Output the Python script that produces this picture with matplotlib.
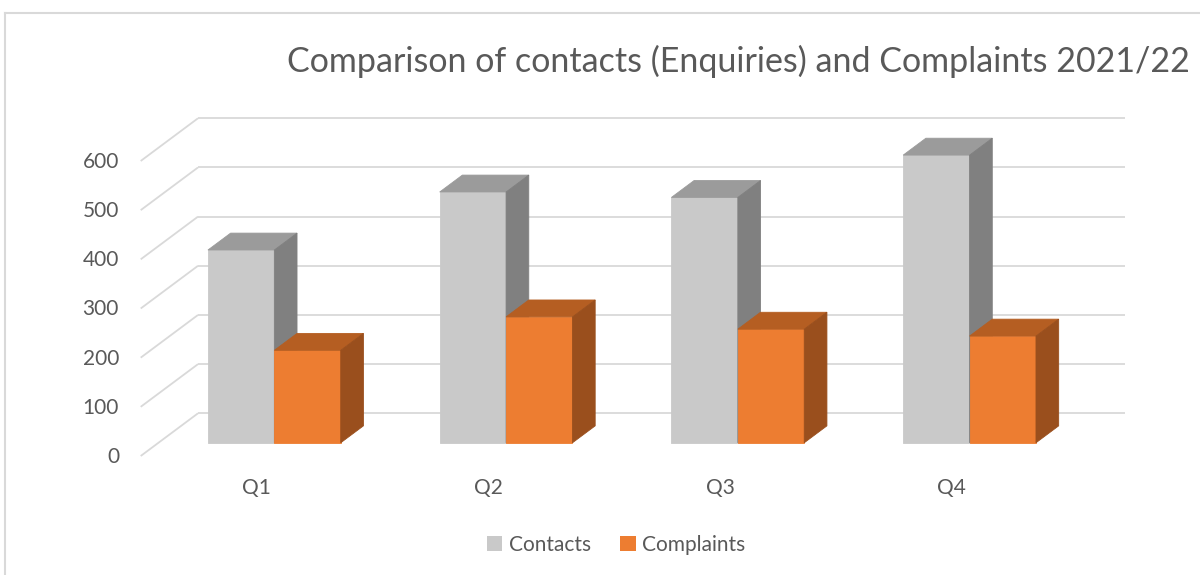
import matplotlib.pyplot as plt
from matplotlib.patches import Polygon, Patch
from matplotlib.lines import Line2D

# data
quarters = ["Q1", "Q2", "Q3", "Q4"]
contacts = [392, 510, 499, 585]
complaints = [188, 256, 231, 217]
y_ticks = [0, 100, 200, 300, 400, 500, 600]
title = "Comparison of contacts (Enquiries) and Complaints 2021/22"

W, H = 1200, 575
# pixel geometry of the fake 3d box
PX_CAT = 231.75          # px per category along x
PX_VAL = 0.4917          # px per value unit
X0_PX = 140.7            # front-left floor corner, px from left
Y0_PX = 456.0            # front floor (value 0), px from top
DEPTH_PX = (57.3, 42.7)  # oblique offset of full depth

DX = DEPTH_PX[0] / PX_CAT
DY = DEPTH_PX[1] / PX_VAL
BAR_W = 66.4 / PX_CAT
D_FRONT, D_BACK = 0.31, 0.706

TEXT = "#595959"
GRID = "#d9d9d9"
colors = {
    "Contacts": ("#c9c9c9", "#9b9b9b", "#808080"),
    "Complaints": ("#ed7d31", "#b55e22", "#9a4f1d"),
}


def proj(x, v, d):
    return (x + d * DX, v + d * DY)


def draw_bar(ax, x0, x1, v, cols):
    front, top, side = cols
    faces = [
        ([proj(x0, 0, D_FRONT), proj(x1, 0, D_FRONT), proj(x1, v, D_FRONT), proj(x0, v, D_FRONT)], front),
        ([proj(x0, v, D_FRONT), proj(x1, v, D_FRONT), proj(x1, v, D_BACK), proj(x0, v, D_BACK)], top),
        ([proj(x1, 0, D_FRONT), proj(x1, v, D_FRONT), proj(x1, v, D_BACK), proj(x1, 0, D_BACK)], side),
    ]
    for pts, c in faces:
        ax.add_patch(Polygon(pts, closed=True, facecolor=c, edgecolor=c, linewidth=0.6, zorder=3))


fig = plt.figure(figsize=(W / 100, H / 100), dpi=100)
ax = fig.add_axes([0, 0, 1, 1])
ax.set_xlim(-X0_PX / PX_CAT, (W - X0_PX) / PX_CAT)
ax.set_ylim(-(H - Y0_PX) / PX_VAL, Y0_PX / PX_VAL)
ax.axis("off")

plt.rcParams["font.family"] = ["Lato", "DejaVu Sans"]

n = len(quarters)
# gridlines: back wall and left side wall
for v in y_ticks:
    bx, by = zip(proj(0, v, 1), proj(n, v, 1))
    ax.plot(bx, by, color=GRID, lw=1.3, zorder=1, solid_capstyle="butt")
    sx, sy = zip(proj(0, v, 0), proj(0, v, 1))
    ax.plot(sx, sy, color=GRID, lw=1.3, zorder=1, solid_capstyle="butt")
    ax.text(-21.7 / PX_CAT, v - 1 / PX_VAL, str(v), ha="right", va="center",
            fontsize=15, color=TEXT)

for i, q in enumerate(quarters):
    c = i + 0.5
    draw_bar(ax, c - BAR_W, c, contacts[i], colors["Contacts"])
    draw_bar(ax, c, c + BAR_W, complaints[i], colors["Complaints"])
    ax.text(c, -32 / PX_VAL, q, ha="center", va="center", fontsize=15, color=TEXT)

# title, fitted to the reference width
t = fig.text(738.4 / W, 1 - 71.7 / H, title, ha="center", va="baseline",
             fontsize=25, color=TEXT)
r = fig.canvas.get_renderer()
tw = t.get_window_extent(renderer=r).width
t.set_fontsize(25 * 905 / tw)

handles = [Patch(facecolor=colors[k][0], edgecolor="none", label=k) for k in colors]
fig.legend(handles=handles, loc="center", bbox_to_anchor=(616 / W, 1 - 545 / H),
           ncol=2, frameon=False, fontsize=15, labelcolor=TEXT,
           handlelength=0.75, handleheight=0.75, handletextpad=0.3, columnspacing=1.4)

# chart area border (top and left visible)
fig.add_artist(Line2D([5 / W, 1], [1 - 13 / H, 1 - 13 / H], color=GRID, lw=1.5))
fig.add_artist(Line2D([5 / W, 5 / W], [0, 1 - 13 / H], color=GRID, lw=1.5))

fig.savefig("out.png", dpi=100)
